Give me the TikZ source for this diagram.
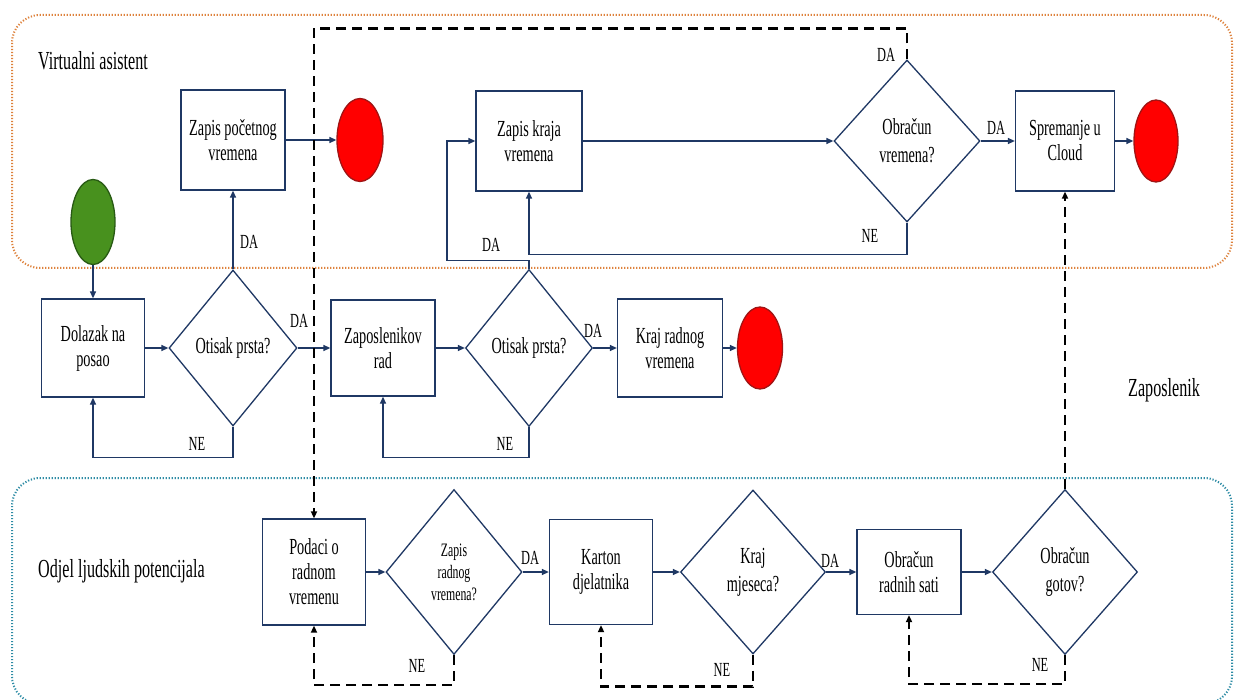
\documentclass[tikz,border=0pt]{standalone}
\usepackage{fontspec}
\setmainfont{Liberation Serif}[FakeStretch=0.62]
\usetikzlibrary{shapes.geometric,arrows.meta}
\definecolor{navy}{RGB}{31,56,100}
\definecolor{laneorange}{RGB}{222,130,60}
\definecolor{laneteal}{RGB}{46,140,165}
\definecolor{redfill}{RGB}{255,0,0}
\definecolor{redline}{RGB}{160,20,20}
\definecolor{greenfill}{RGB}{72,145,30}
\definecolor{greenline}{RGB}{40,90,20}
\begin{document}
\begin{tikzpicture}[x=1pt,y=-1pt,
  box/.style={draw=navy, line width=1.3pt, rectangle, align=center, inner sep=2pt, font=\fontsize{23}{25}\selectfont},
  dec/.style={draw=navy, line width=1.3pt, diamond, align=center, inner sep=0pt, font=\fontsize{23}{28}\selectfont},
  term/.style={ellipse, line width=1.3pt, inner sep=0pt},
  redterm/.style={term, fill=redfill, draw=redline},
  flow/.style={draw=navy, line width=1.3pt, -{Triangle[length=7pt,width=6pt]}},
  dflow/.style={draw=black, line width=2.6pt, dash pattern=on 10pt off 6pt, -{Triangle[length=7pt,width=6pt]}},
  lbl/.style={font=\fontsize{20}{22}\selectfont, inner sep=0pt},
  lane/.style={line width=2pt, dash pattern=on 1.2pt off 1.8pt, rounded corners=28pt},
  lanelbl/.style={font=\fontsize{26}{28}\selectfont, anchor=west, inner sep=0pt}]
\useasboundingbox (0,0) rectangle (1236,700);
\fill[white] (0,0) rectangle (1236,700);

% lanes
\draw[lane, draw=laneorange] (12,15) rectangle (1232,268);
\draw[lane, draw=laneteal] (12,478) rectangle (1232,704);
\node[lanelbl] (l1) at (38,61) {Virtualni asistent};
\node[lanelbl] (l2) at (1128,390) {Zaposlenik};
\node[lanelbl] (l3) at (38,571) {Odjel ljudskih potencijala};

% top row
\node[term, fill=greenfill, draw=greenline, minimum width=44pt, minimum height=85pt] (start) at (93,222) {};
\node[box, minimum width=104pt, minimum height=100pt] (zp) at (233,140) {Zapis početnog\\vremena};
\node[redterm, minimum width=46pt, minimum height=83pt] (end1) at (360,140) {};
\node[box, minimum width=106pt, minimum height=100pt] (zk) at (529,141) {Zapis kraja\\vremena};
\node[dec, minimum width=146pt, minimum height=162pt] (ov) at (907,141) {Obračun\\vremena?};
\node[box, minimum width=99pt, minimum height=100pt] (sc) at (1065,141) {Spremanje u\\Cloud};
\node[redterm, minimum width=44pt, minimum height=82pt] (end3) at (1156,141) {};

% middle row
\node[box, minimum width=103pt, minimum height=98pt] (dol) at (93,348) {Dolazak na\\posao};
\node[dec, minimum width=128pt, minimum height=156pt] (op1) at (233,348) {Otisak prsta?};
\node[box, minimum width=104pt, minimum height=96pt] (zr) at (383,348) {Zaposlenikov\\rad};
\node[dec, minimum width=127pt, minimum height=157pt] (op2) at (529,348) {Otisak prsta?};
\node[box, minimum width=105pt, minimum height=98pt] (kr) at (670,348) {Kraj radnog\\vremena};
\node[redterm, minimum width=45pt, minimum height=82pt] (end2) at (760,348) {};

% bottom row
\node[box, minimum width=103pt, minimum height=106pt] (pod) at (314,572) {Podaci o\\radnom\\vremenu};
\node[dec, minimum width=136pt, minimum height=165pt, font=\fontsize{19}{22}\selectfont] (zrv) at (454,572) {Zapis\\radnog\\vremena?};
\node[box, minimum width=103pt, minimum height=105pt] (kar) at (601,572) {Karton\\djelatnika};
\node[dec, minimum width=145pt, minimum height=164pt] (km) at (753,572) {Kraj\\mjeseca?};
\node[box, minimum width=104pt, minimum height=85pt] (ors) at (909,572) {Obračun\\radnih sati};
\node[dec, minimum width=145pt, minimum height=165pt] (og) at (1065,572) {Obračun\\gotov?};

% solid connectors
\draw[flow] (start.south) -- (dol.north);
\draw[flow] (dol.east) -- (op1.west);
\draw[flow] (op1.north) -- (zp.south);
\draw[flow] (zp.east) -- (end1.west);
\draw[flow] (op1.east) -- (zr.west);
\draw[flow] (op1.south) -- ++(0,31) -| (dol.south);
\draw[flow] (zr.east) -- (op2.west);
\draw[flow] (op2.south) -- ++(0,30) -| (zr.south);
\draw[flow] (op2.east) -- (kr.west);
\draw[flow] (kr.east) -- (end2.west);
\draw[flow] (op2.north) -- ++(0,-8) -- ++(-82,0) |- (zk.west);
\draw[flow] (zk.east) -- (ov.west);
\draw[flow] (ov.south) -- ++(0,32) -| (zk.south);
\draw[flow] (ov.east) -- (sc.west);
\draw[flow] (sc.east) -- (end3.west);
\draw[flow] (pod.east) -- (zrv.west);
\draw[flow] (zrv.east) -- (kar.west);
\draw[flow] (kar.east) -- (km.west);
\draw[flow] (km.east) -- (ors.west);
\draw[flow] (ors.east) -- (og.west);

% dashed connectors
\draw[dflow] (ov.north) -- ++(0,-31) -| (pod.north);
\draw[dflow] (zrv.south) -- ++(0,30) -| (pod.south);
\draw[dflow] (km.south) -- ++(0,32) -| (kar.south);
\draw[dflow] (og.south) -- ++(0,29) -| (ors.south);
\draw[dflow] (og.north) -- (sc.south);

% labels
\node[lbl] (t1) at (249,242) {DA};
\node[lbl] (t2) at (299,321) {DA};
\node[lbl] (t3) at (197,444) {NE};
\node[lbl] (t4) at (491,245) {DA};
\node[lbl] (t5) at (505,444) {NE};
\node[lbl] (t6) at (593,331) {DA};
\node[lbl] (t7) at (886,55) {DA};
\node[lbl] (t8) at (870,236) {NE};
\node[lbl] (t9) at (996,128) {DA};
\node[lbl] (t10) at (417,666) {NE};
\node[lbl] (t11) at (530,558) {DA};
\node[lbl] (t12) at (722,670) {NE};
\node[lbl] (t13) at (830,561) {DA};
\node[lbl] (t14) at (1040,665) {NE};
\end{tikzpicture}
\end{document}
